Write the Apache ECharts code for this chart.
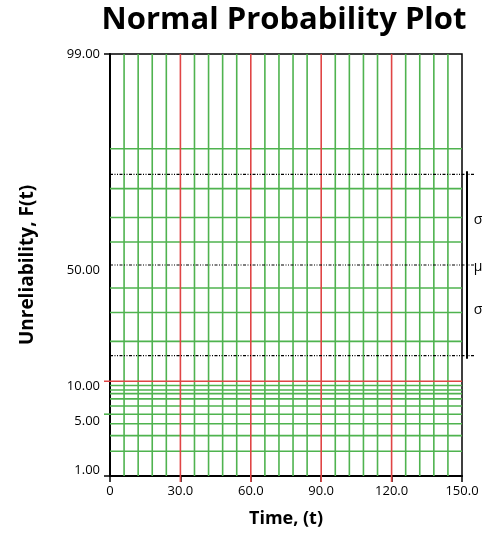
<!DOCTYPE html>
<html>
<head>
<meta charset="utf-8">
<script src="https://cdn.jsdelivr.net/npm/echarts@6/dist/echarts.min.js"></script>
<style>
html,body{margin:0;padding:0;background:#fff;}
#chart{width:500px;height:533px;}
</style>
</head>
<body>
<div id="chart"></div>
<script>
// ---- data ----
const chartTitle = 'Normal Probability Plot';
const xName = 'Time, (t)';
const yName = 'Unreliability, F(t)';
const xRange = [0, 150];
const yRangePct = [1, 99];
const xTickLabels = [0, 30, 60, 90, 120, 150];
const xGridMajor = [30, 60, 90, 120];
const xGridMinor = [6, 12, 18, 24, 36, 42, 48, 54, 66, 72, 78, 84, 96, 102, 108, 114, 126, 132, 138, 144];
const yTickLabels = [1, 5, 10, 50, 99];
const yGridMajorPct = [10];
const yGridMinorPct = [2, 3, 4, 5, 6, 7, 7.8, 8.4, 9.2, 20, 30, 40, 60, 70, 80, 90];
const muPct = 50;
const sigmaPct = [15.87, 84.13];

// ---- normal probability scale (inverse normal CDF) ----
function probit(p) {
  const a=[-3.969683028665376e+01,2.209460984245205e+02,-2.759285104469687e+02,1.383577518672690e+02,-3.066479806614716e+01,2.506628277459239e+00];
  const b=[-5.447609879822406e+01,1.615858368580409e+02,-1.556989798598866e+02,6.680131188771972e+01,-1.328068155288572e+01];
  const c=[-7.784894002430293e-03,-3.223964580411365e-01,-2.400758277161838e+00,-2.549732539343734e+00,4.374664141464968e+00,2.938163982698783e+00];
  const d=[7.784695709041462e-03,3.224671290700398e-01,2.445134137142996e+00,3.754408661907416e+00];
  const pl=0.02425, ph=1-pl; let q, r;
  if (p < pl) { q=Math.sqrt(-2*Math.log(p)); return (((((c[0]*q+c[1])*q+c[2])*q+c[3])*q+c[4])*q+c[5])/((((d[0]*q+d[1])*q+d[2])*q+d[3])*q+1); }
  if (p <= ph) { q=p-0.5; r=q*q; return (((((a[0]*r+a[1])*r+a[2])*r+a[3])*r+a[4])*r+a[5])*q/(((((b[0]*r+b[1])*r+b[2])*r+b[3])*r+b[4])*r+1); }
  q=Math.sqrt(-2*Math.log(1-p)); return -(((((c[0]*q+c[1])*q+c[2])*q+c[3])*q+c[4])*q+c[5])/((((d[0]*q+d[1])*q+d[2])*q+d[3])*q+1);
}
const z = pct => probit(pct / 100);

const GREEN = '#4fb34f', RED = '#e04545', FONT = '"Open Sans", "Noto Sans", sans-serif';
const yMin = z(yRangePct[0]), yMax = z(yRangePct[1]);

// label vertical nudges (style only)
const labelShift = {1: 'up', 5: 'dn2', 10: 'dn', 50: 'dn', 99: 'n'};

// grid line data: [orientation (0 = vertical, 1 = horizontal), value, major flag]
const gridData = [];
xGridMinor.forEach(v => gridData.push([0, v, 0]));
yGridMinorPct.forEach(p => gridData.push([1, z(p), 0]));
xGridMajor.forEach(v => gridData.push([0, v, 1]));
yGridMajorPct.forEach(p => gridData.push([1, z(p), 1]));

const chart = echarts.init(document.getElementById('chart'));
chart.setOption({
  animation: false,
  backgroundColor: '#fff',
  title: {
    text: chartTitle, left: 279, top: 0, textAlign: 'center',
    textStyle: {fontFamily: FONT, fontWeight: 'bold', fontSize: 31, color: '#000'}
  },
  grid: {left: 110, right: 38, top: 54, bottom: 57, show: true, borderColor: '#000', borderWidth: 1.5, backgroundColor: 'transparent'},
  xAxis: {
    type: 'value', min: xRange[0], max: xRange[1], interval: 30,
    name: xName, nameLocation: 'middle', nameGap: 34,
    nameTextStyle: {fontFamily: FONT, fontWeight: 'bold', fontSize: 18, color: '#000'},
    axisLine: {show: true, onZero: false, lineStyle: {color: '#000', width: 2}},
    axisTick: {show: true, length: 6, lineStyle: {color: '#000', width: 1.5}},
    axisLabel: {fontFamily: FONT, fontSize: 13, color: '#000', margin: 9,
      formatter: v => v === 0 ? '0' : v.toFixed(1)},
    splitLine: {show: false}
  },
  yAxis: {
    type: 'value', min: yMin, max: yMax,
    name: yName, nameLocation: 'middle', nameGap: 73,
    nameTextStyle: {fontFamily: FONT, fontWeight: 'bold', fontSize: 19, color: '#000'},
    axisLine: {show: true, onZero: false, lineStyle: {color: '#000', width: 2}},
    axisTick: {show: true, length: 6, customValues: [yMin, yMax], lineStyle: {color: '#000', width: 1.5}},
    axisLabel: {
      fontFamily: FONT, fontSize: 13, color: '#000', margin: 10,
      customValues: yTickLabels.map(z),
      formatter: v => {
        let best = yTickLabels[0];
        yTickLabels.forEach(p => { if (Math.abs(z(p) - v) < Math.abs(z(best) - v)) best = p; });
        return '{' + labelShift[best] + '|' + best.toFixed(2) + '}';
      },
      rich: {
        n: {fontFamily: FONT, fontSize: 13, color: '#000'},
        dn: {fontFamily: FONT, fontSize: 13, color: '#000', padding: [10, 0, 0, 0]},
        dn2: {fontFamily: FONT, fontSize: 13, color: '#000', padding: [14, 0, 0, 0]},
        up: {fontFamily: FONT, fontSize: 13, color: '#000', padding: [0, 0, 12, 0]}
      }
    },
    splitLine: {show: false}
  },
  series: [
    {
      type: 'custom', coordinateSystem: 'cartesian2d', clip: false, silent: true,
      data: gridData, z: 1,
      renderItem: (params, api) => {
        const o = api.value(0), v = api.value(1), major = api.value(2);
        let p1, p2;
        if (o === 0) {
          p1 = api.coord([v, yMin]); p2 = api.coord([v, yMax]);
          if (major) p1[1] += 6;
        } else {
          p1 = api.coord([xRange[0], v]); p2 = api.coord([xRange[1], v]);
          if (major) p1[0] -= 6;
        }
        return {type: 'line', shape: {x1: p1[0], y1: p1[1], x2: p2[0], y2: p2[1]},
          style: {stroke: major ? RED : GREEN, lineWidth: 1.6}};
      }
    },
    {
      // green tick at 5.00 on the left
      type: 'custom', coordinateSystem: 'cartesian2d', clip: false, silent: true,
      data: [[xRange[0], z(5)]], z: 1,
      renderItem: (params, api) => {
        const p = api.coord([api.value(0), api.value(1)]);
        return {type: 'line', shape: {x1: p[0] - 6, y1: p[1], x2: p[0], y2: p[1]}, style: {stroke: GREEN, lineWidth: 1.6}};
      }
    },
    {
      // mu / sigma annotations
      type: 'custom', coordinateSystem: 'cartesian2d', clip: false, silent: true, z: 3,
      data: [[z(sigmaPct[0]), z(muPct), z(sigmaPct[1])]],
      renderItem: (params, api) => {
        const lo = api.value(0), mu = api.value(1), hi = api.value(2);
        const children = [];
        [lo, mu, hi].forEach(val => {
          const a = api.coord([xRange[0], val]), b = api.coord([xRange[1], val]);
          children.push({type: 'line', shape: {x1: a[0], y1: a[1], x2: b[0] + 13, y2: b[1]},
            style: {stroke: '#000', lineWidth: 1.2, lineDash: [3, 1.5, 1, 1.5, 1, 1.5]}});
        });
        const top = api.coord([xRange[1], hi]), bot = api.coord([xRange[1], lo]), mid = api.coord([xRange[1], mu]);
        const bx = top[0] + 5;
        children.push({type: 'line', shape: {x1: bx, y1: top[1] - 3, x2: bx, y2: bot[1] + 3}, style: {stroke: '#000', lineWidth: 2}});
        const tx = bx + 11;
        const u = api.coord([xRange[1], (hi + mu) / 2]), l = api.coord([xRange[1], (lo + mu) / 2]);
        [[u[1], 'σ'], [mid[1] + 2, 'μ'], [l[1], 'σ']].forEach(([y, t]) => {
          children.push({type: 'text', x: tx, y: y,
            style: {text: t, fill: '#000', font: '14px ' + FONT, align: 'center', verticalAlign: 'middle'}});
        });
        return {type: 'group', children};
      }
    }
  ]
});
</script>
</body>
</html>
